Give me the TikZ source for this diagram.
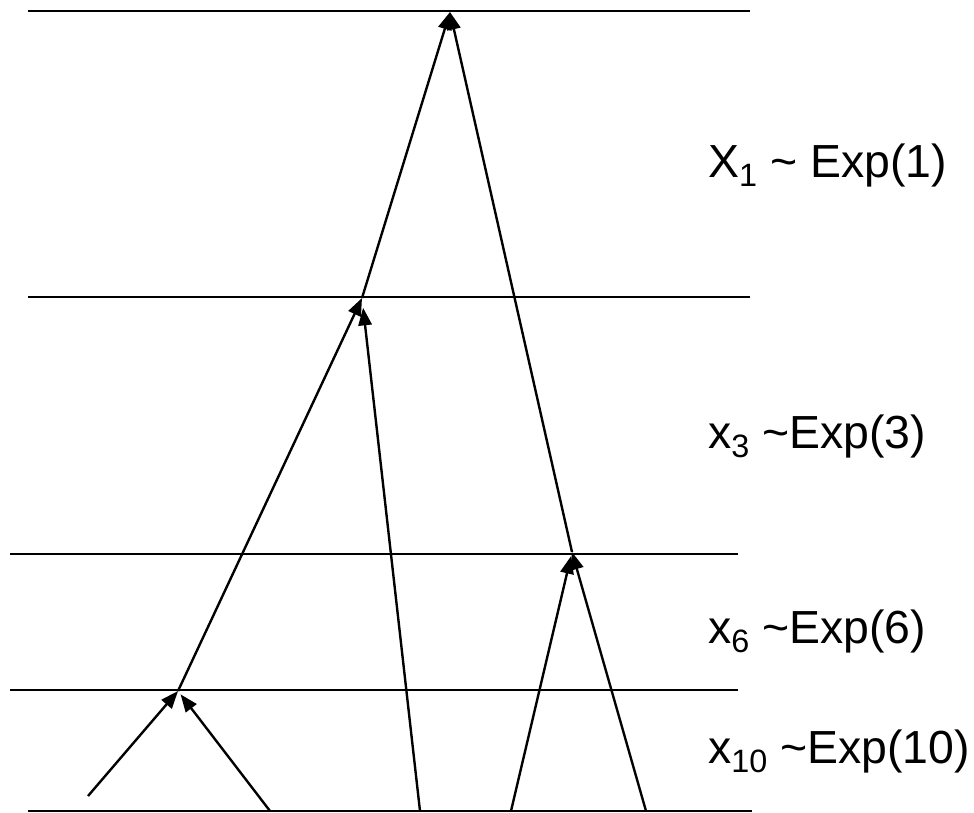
\documentclass[tikz,border=0pt]{standalone}
\usepackage{fontspec}
\setmainfont{Liberation Sans}
\usetikzlibrary{arrows.meta}

\begin{document}
\begin{tikzpicture}[
  x=0.025cm, y=-0.025cm,
  level/.style={line width=1.7pt},
  merge/.style={line width=1.7pt, -{Triangle[length=12.5pt, width=9.5pt]}},
  rate/.style={anchor=base west, inner sep=0pt, font=\fontsize{33}{40}\selectfont},
]
\newcommand{\sub}[1]{\raisebox{-7pt}{\fontsize{23}{23}\selectfont #1}}
\useasboundingbox (0,0) rectangle (974,812);

% Levels
\draw[level] (28,11)  -- (750,11);
\draw[level] (28,297) -- (750,297);
\draw[level] (10,554) -- (738,554);
\draw[level] (10,690) -- (738,690);
\draw[level] (28,811) -- (752,811);

% Lineages and merge points
\coordinate (l1) at (88,796);
\coordinate (l2) at (270,811);
\coordinate (l3) at (420,811);
\coordinate (l4) at (511,811);
\coordinate (l5) at (646,811);
\coordinate (m1) at (178,691);
\coordinate (m2) at (362,298);
\coordinate (m3) at (572,552);
\coordinate (root) at (450,12);

% Merges
\draw[merge] (l1) -- (m1);
\draw[merge, shorten >=3pt] (l2) -- (m1);
\draw[merge] (m1) -- (m2);
\draw[merge, shorten >=7pt] (l3) -- (m2);
\draw[merge] (m2) -- (root);
\draw[merge] (m3) -- (root);
\draw[merge, shorten >=3pt] (l4) -- (m3);
\draw[merge] (l5) -- (m3);

% Waiting times
\node[rate] (r1) at (708,177) {X\sub{1} \textasciitilde{} Exp(1)};
\node[rate] (r3) at (708,448) {x\sub{3} \textasciitilde Exp(3)};
\node[rate] (r6) at (708,643) {x\sub{6} \textasciitilde Exp(6)};
\node[rate] (r10) at (708,763) {x\sub{10} \textasciitilde Exp(10)};

\end{tikzpicture}
\end{document}
